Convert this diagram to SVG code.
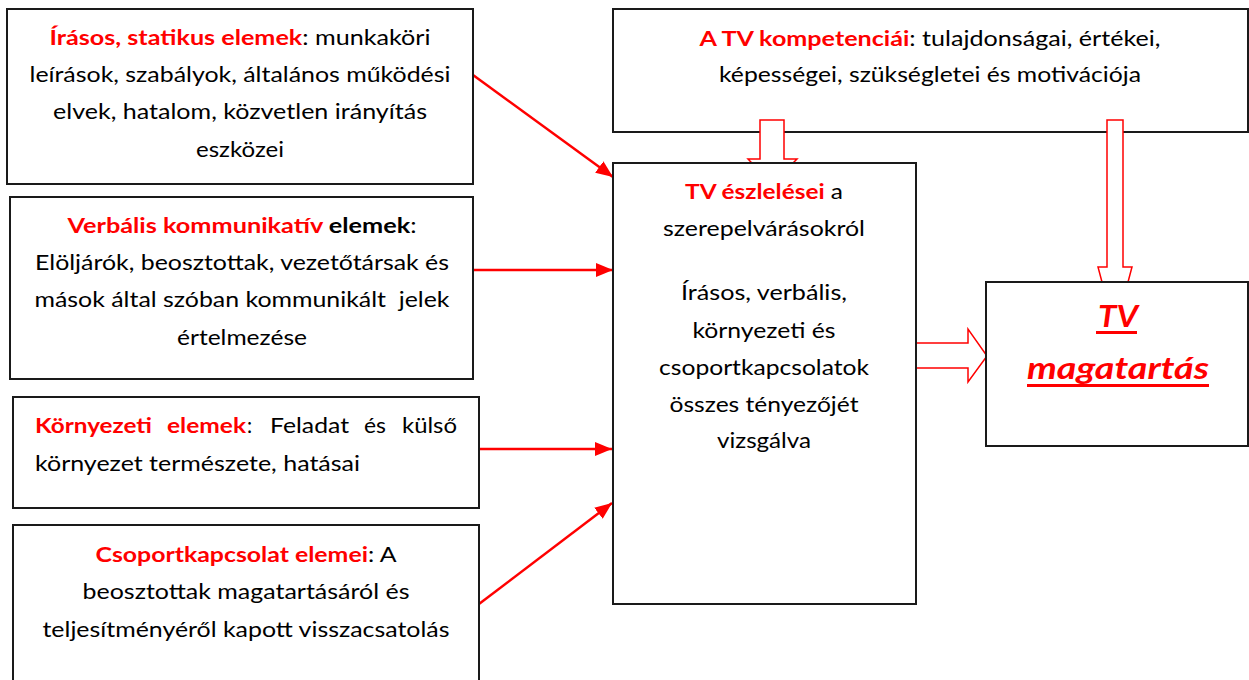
<svg xmlns="http://www.w3.org/2000/svg" width="1249" height="680" viewBox="0 0 1249 680">
<style>
.box{fill:#fff;stroke:#1a1a1a;stroke-width:2}
.t{font-family:Lato,"Liberation Sans",sans-serif;font-size:20.5px;fill:#000;text-anchor:middle}
.l{text-anchor:start}
.r{fill:#ff0000;font-weight:bold}
.b{font-weight:bold}
.link{stroke:#ff0000;stroke-width:2.5;fill:none;marker-end:url(#ah)}
.hollow{fill:#fff;stroke:#ff0000;stroke-width:1.5;stroke-linejoin:miter}
.big{font-family:Lato,"Liberation Sans",sans-serif;font-size:30px;font-weight:bold;font-style:italic;fill:#ff0000;text-anchor:middle}
.ul{fill:#ff0000}
</style>
<defs>
<marker id="ah" markerUnits="userSpaceOnUse" markerWidth="18" markerHeight="14" refX="17" refY="7" orient="auto">
<path d="M0,0 L17,7 L0,14 z" fill="#ff0000"/>
</marker>
</defs>
<rect width="1249" height="680" fill="#fff"/>

<g id="node-competencies">
<rect class="box" x="613" y="9" width="635" height="123"/>
<text class="t" x="930" y="46" textLength="461" lengthAdjust="spacingAndGlyphs"><tspan class="r">A TV kompetenciái</tspan>: tulajdonságai, értékei,</text>
<text class="t" x="930" y="82" textLength="422" lengthAdjust="spacingAndGlyphs">képességei, szükségletei és motivációja</text>
</g>

<g id="connectors">
<line class="link" x1="473" y1="75" x2="613" y2="177"/>
<line class="link" x1="473" y1="270" x2="613" y2="270"/>
<line class="link" x1="477" y1="449" x2="612" y2="449"/>
<line class="link" x1="479" y1="604" x2="612" y2="503"/>
<polygon class="hollow" points="760,120 784,120 784,159 797,159 772,184 748,159 760,159"/>
<polygon class="hollow" points="1107,120 1123,120 1123,267 1132,267 1115,331 1098,267 1107,267"/>
<polygon class="hollow" points="913,343 968,343 968,329 987,356 968,382 968,368 913,368"/>
</g>

<g id="node-perception">
<rect class="box" x="613" y="163" width="303" height="441"/>
<text class="t" x="764" y="199" textLength="158" lengthAdjust="spacingAndGlyphs"><tspan class="r">TV észlelései</tspan> a</text>
<text class="t" x="764" y="236" textLength="202" lengthAdjust="spacingAndGlyphs">szerepelvárásokról</text>
<text class="t" x="764" y="300" textLength="166" lengthAdjust="spacingAndGlyphs">Írásos, verbális,</text>
<text class="t" x="764" y="338" textLength="143" lengthAdjust="spacingAndGlyphs">környezeti és</text>
<text class="t" x="764" y="375" textLength="210" lengthAdjust="spacingAndGlyphs">csoportkapcsolatok</text>
<text class="t" x="764" y="412" textLength="189" lengthAdjust="spacingAndGlyphs">összes tényezőjét</text>
<text class="t" x="764" y="448" textLength="94" lengthAdjust="spacingAndGlyphs">vizsgálva</text>
</g>

<g id="node-behaviour">
<rect class="box" x="986" y="282" width="262" height="164"/>
<text class="big" x="1118" y="327" textLength="40" lengthAdjust="spacingAndGlyphs">TV</text>
<rect class="ul" x="1096" y="331" width="41" height="3"/>
<text class="big" x="1118" y="379" textLength="182" lengthAdjust="spacingAndGlyphs">magatartás</text>
<rect class="ul" x="1027" y="384" width="182" height="3"/>
</g>

<g id="node-written">
<rect class="box" x="7" y="9" width="466" height="175"/>
<text class="t" x="240" y="45" textLength="381" lengthAdjust="spacingAndGlyphs"><tspan class="r">Írásos, statikus elemek</tspan>: munkaköri</text>
<text class="t" x="240" y="82" textLength="421" lengthAdjust="spacingAndGlyphs">leírások, szabályok, általános működési</text>
<text class="t" x="240" y="119" textLength="374" lengthAdjust="spacingAndGlyphs">elvek, hatalom, közvetlen irányítás</text>
<text class="t" x="240" y="157" textLength="88" lengthAdjust="spacingAndGlyphs">eszközei</text>
</g>

<g id="node-verbal">
<rect class="box" x="10" y="197" width="463" height="182"/>
<text class="t" x="242" y="233" textLength="349" lengthAdjust="spacingAndGlyphs"><tspan class="r">Verbális kommunikatív</tspan><tspan class="b"> elemek</tspan>:</text>
<text class="t" x="242" y="270" textLength="414" lengthAdjust="spacingAndGlyphs">Elöljárók, beosztottak, vezetőtársak és</text>
<text class="t" x="242" y="307" textLength="415" lengthAdjust="spacingAndGlyphs" style="white-space:pre">mások által szóban kommunikált  jelek</text>
<text class="t" x="242" y="345" textLength="130" lengthAdjust="spacingAndGlyphs">értelmezése</text>
</g>

<g id="node-environment">
<rect class="box" x="13" y="397" width="466" height="111"/>
<text class="t l r" x="35" y="433" textLength="117" lengthAdjust="spacingAndGlyphs">Környezeti</text>
<text class="t l r" x="167" y="433" textLength="79" lengthAdjust="spacingAndGlyphs">elemek</text>
<text class="t l" x="247" y="433">:</text>
<text class="t l" x="270" y="433" textLength="79" lengthAdjust="spacingAndGlyphs">Feladat</text>
<text class="t l" x="364" y="433" textLength="22" lengthAdjust="spacingAndGlyphs">és</text>
<text class="t l" x="402" y="433" textLength="55" lengthAdjust="spacingAndGlyphs">külső</text>
<text class="t l" x="35" y="471" textLength="325" lengthAdjust="spacingAndGlyphs">környezet természete, hatásai</text>
</g>

<g id="node-group">
<rect class="box" x="13" y="525" width="466" height="180"/>
<text class="t" x="246" y="562" textLength="301" lengthAdjust="spacingAndGlyphs"><tspan class="r">Csoportkapcsolat elemei</tspan>: A</text>
<text class="t" x="246" y="599" textLength="327" lengthAdjust="spacingAndGlyphs">beosztottak magatartásáról és</text>
<text class="t" x="246" y="637" textLength="407" lengthAdjust="spacingAndGlyphs">teljesítményéről kapott visszacsatolás</text>
</g>
</svg>
